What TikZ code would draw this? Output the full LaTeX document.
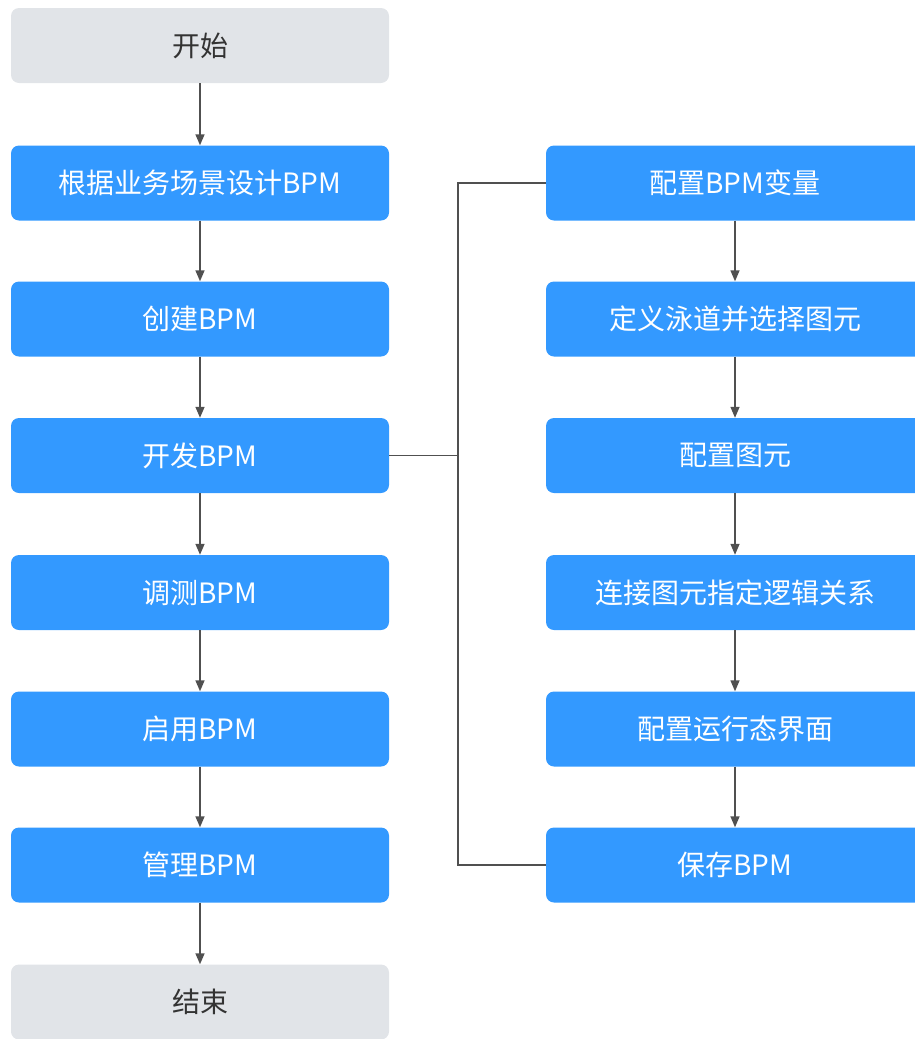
\documentclass[tikz,border=0pt]{standalone}
\usepackage{fontspec}
\setmainfont{Noto Sans CJK SC}
\usetikzlibrary{arrows.meta}
\definecolor{bpmblue}{HTML}{3399FF}
\definecolor{endgray}{HTML}{E1E4E8}
\definecolor{linegray}{HTML}{505050}
\begin{document}
\begin{tikzpicture}[x=1pt,y=-1pt,
  stepbox/.style={fill=bpmblue, rounded corners=8pt, minimum width=378pt, minimum height=75pt, inner sep=0pt, text=white, font=\fontsize{28}{30}\selectfont},
  endbox/.style={stepbox, fill=endgray, text=black!80},
  flow/.style={draw=linegray, line width=1.4pt, -{Triangle[length=11pt,width=9pt]}},
  link/.style={draw=linegray, line width=1.3pt}]
\useasboundingbox (0,0) rectangle (915,1039);
% left column
\node[endbox] (start) at (200,45.5) {开始};
\node[stepbox] (design) at (200,183) {根据业务场景设计BPM};
\node[stepbox] (create) at (200,319) {创建BPM};
\node[stepbox] (dev) at (200,455.5) {开发BPM};
\node[stepbox] (debug) at (200,592.5) {调测BPM};
\node[stepbox] (enable) at (200,729) {启用BPM};
\node[stepbox] (manage) at (200,865) {管理BPM};
\node[endbox] (finish) at (200,1002) {结束};
% right column
\node[stepbox] (var) at (735,183) {配置BPM变量};
\node[stepbox] (lane) at (735,319) {定义泳道并选择图元};
\node[stepbox] (elem) at (735,455.5) {配置图元};
\node[stepbox] (logic) at (735,592.5) {连接图元指定逻辑关系};
\node[stepbox] (ui) at (735,729) {配置运行态界面};
\node[stepbox] (save) at (735,865) {保存BPM};
% arrows
\draw[flow] (start) -- (design);
\draw[flow] (design) -- (create);
\draw[flow] (create) -- (dev);
\draw[flow] (dev) -- (debug);
\draw[flow] (debug) -- (enable);
\draw[flow] (enable) -- (manage);
\draw[flow] (manage) -- (finish);
\draw[flow] (var) -- (lane);
\draw[flow] (lane) -- (elem);
\draw[flow] (elem) -- (logic);
\draw[flow] (logic) -- (ui);
\draw[flow] (ui) -- (save);
% bracket to the detail steps
\coordinate (bus) at (458,0);
\draw[link] (var.west) -| (bus |- save.west) -- (save.west);
\draw[link] (dev.east) -- (bus |- dev.east);
\end{tikzpicture}
\end{document}
